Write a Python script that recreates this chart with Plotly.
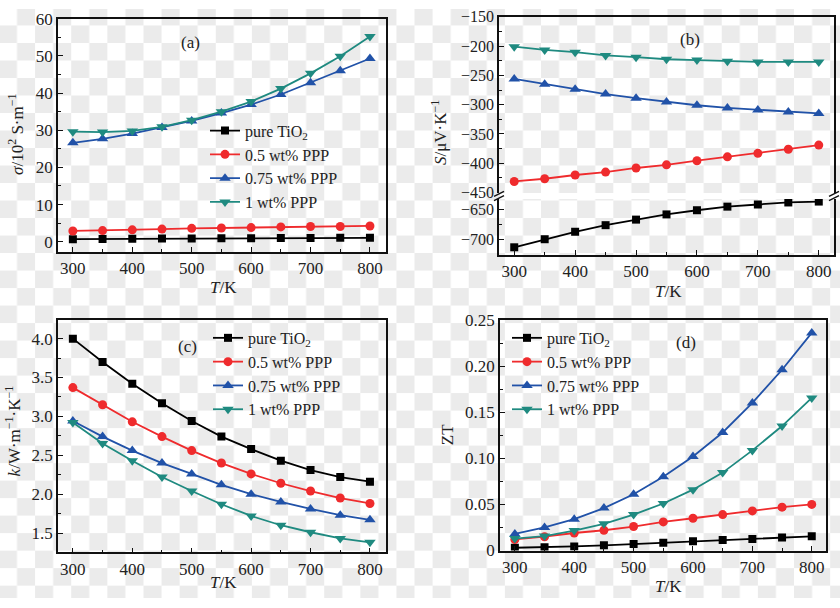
import base64
import plotly.graph_objects as go

# ---------------- data ----------------
T = [300, 350, 400, 450, 500, 550, 600, 650, 700, 750, 800]
series_names = ["pure TiO<sub>2</sub>", "0.5 wt% PPP", "0.75 wt% PPP", "1 wt% PPP"]

sigma_pure = [0.7, 0.75, 0.8, 0.85, 0.9, 0.95, 0.95, 1.0, 1.0, 1.05, 1.05]
sigma_05 = [2.9, 3.0, 3.2, 3.4, 3.6, 3.7, 3.8, 4.0, 4.1, 4.1, 4.25]
sigma_075 = [26.6, 27.7, 29.1, 30.7, 32.5, 34.6, 36.9, 39.6, 42.8, 46.0, 49.3]
sigma_1 = [29.6, 29.5, 29.8, 30.9, 32.7, 35.0, 37.7, 41.2, 45.3, 49.9, 55.2]

S_pure = [-713, -699.5, -687, -676, -666.7, -658, -651, -645, -641.4, -638, -636.5]
S_05 = [-431, -426.4, -420, -415, -408, -402.7, -395.6, -389, -383, -376, -369]
S_075 = [-256, -265, -273.6, -282, -289, -295.6, -301, -305.5, -309, -312.6, -315]
S_1 = [-201, -206.6, -210.4, -216, -219, -222.5, -224, -226, -227, -227, -227]

k_pure = [4.0, 3.70, 3.42, 3.17, 2.94, 2.74, 2.58, 2.43, 2.31, 2.22, 2.16]
k_05 = [3.37, 3.15, 2.93, 2.74, 2.56, 2.40, 2.26, 2.14, 2.04, 1.95, 1.88]
k_075 = [2.94, 2.74, 2.56, 2.40, 2.26, 2.12, 2.00, 1.90, 1.81, 1.73, 1.67]
k_1 = [2.92, 2.65, 2.43, 2.22, 2.04, 1.87, 1.72, 1.60, 1.51, 1.43, 1.38]

ZT_pure = [0.003, 0.0035, 0.0045, 0.0056, 0.007, 0.0084, 0.010, 0.0115, 0.0126, 0.014, 0.0154]
ZT_05 = [0.012, 0.015, 0.019, 0.022, 0.026, 0.031, 0.035, 0.039, 0.043, 0.047, 0.050]
ZT_075 = [0.018, 0.025, 0.034, 0.046, 0.061, 0.080, 0.102, 0.128, 0.160, 0.196, 0.236]
ZT_1 = [0.013, 0.0157, 0.0216, 0.029, 0.039, 0.051, 0.066, 0.0845, 0.1086, 0.135, 0.1655]

# tick labels
x_ticks = [300, 400, 500, 600, 700, 800]
x_ticktext = ["300", "400", "500", "600", "700", "800"]
a_ticks = [0, 10, 20, 30, 40, 50, 60]
a_ticktext = ["0", "10", "20", "30", "40", "50", "60"]
b_up_ticks = [-450, -400, -350, -300, -250, -200, -150]
b_up_ticktext = ["−450", "−400", "−350", "−300", "−250", "−200", "−150"]
b_lo_ticks = [-700, -650]
b_lo_ticktext = ["−700", "−650"]
c_ticks = [1.5, 2.0, 2.5, 3.0, 3.5, 4.0]
c_ticktext = ["1.5", "2.0", "2.5", "3.0", "3.5", "4.0"]
d_ticks = [0, 0.05, 0.10, 0.15, 0.20, 0.25]
d_ticktext = ["0", "0.05", "0.10", "0.15", "0.20", "0.25"]

# ---------------- style ----------------
W, H = 840, 608
FONT = "Liberation Serif"
colors = ["#000000", "#ef2b2d", "#2152a8", "#1f8a80"]
symbols = ["square", "circle", "triangle-up", "triangle-down"]
msizes = [8, 9, 10, 10]


def px_x(p):
    return p / W


def px_y(p):
    return 1 - p / H


fig = go.Figure()


def add_series(ys, xa, ya, legend, showlegend=True, idx=None):
    for i, y in enumerate(ys):
        j = i if idx is None else idx[i]
        fig.add_trace(go.Scatter(
            x=T, y=y, mode="lines+markers", name=series_names[j],
            line=dict(color=colors[j], width=1.8),
            marker=dict(symbol=symbols[j], size=msizes[j], color=colors[j]),
            xaxis=xa, yaxis=ya, legend=legend, showlegend=showlegend,
        ))


add_series([sigma_pure, sigma_05, sigma_075, sigma_1], "x", "y", "legend")
add_series([S_05, S_075, S_1], "x2", "y2", "legend", showlegend=False, idx=[1, 2, 3])
add_series([S_pure], "x3", "y3", "legend", showlegend=False, idx=[0])
add_series([k_pure, k_05, k_075, k_1], "x4", "y4", "legend2")
add_series([ZT_pure, ZT_05, ZT_075, ZT_1], "x5", "y5", "legend3")

tickfont = dict(family=FONT, size=17, color="#222")
axis_common = dict(showline=True, linecolor="#111", linewidth=1.5, showgrid=False,
                   zeroline=False, ticks="inside", ticklen=5, tickwidth=1.2,
                   tickcolor="#111", tickfont=tickfont)


def xaxis(domain, anchor, rng, **kw):
    d = dict(axis_common)
    d.update(domain=domain, anchor=anchor, range=rng, tickmode="array",
             tickvals=x_ticks, ticktext=x_ticktext, mirror=True,
             minor=dict(ticks="inside", ticklen=3, dtick=50, tick0=300, tickcolor="#111"))
    d.update(kw)
    return d


def yaxis(domain, anchor, rng, tv, tt, minor_dt, **kw):
    d = dict(axis_common)
    d.update(domain=domain, anchor=anchor, range=rng, tickmode="array",
             tickvals=tv, ticktext=tt, mirror=True,
             minor=dict(ticks="inside", ticklen=3, dtick=minor_dt, tick0=0, tickcolor="#111"))
    d.update(kw)
    return d


# panel domains (pixel based)
ax_a = [px_x(58), px_x(386)]
ax_b = [px_x(499), px_x(834)]
ax_c = [px_x(58), px_x(386)]
ax_d = [px_x(500), px_x(826)]
bfont = dict(family=FONT, size=16, color="#222")

fig.update_layout(
    xaxis=xaxis(ax_a, "y", [275, 827]),
    yaxis=yaxis([px_y(251), px_y(10)], "x", [-2.8, 60], a_ticks, a_ticktext, 5),
    xaxis2=xaxis(ax_b, "y2", [275, 825], side="top", showticklabels=False,
                 ticks="", mirror=False, minor=dict(ticks="")),
    yaxis2=yaxis([px_y(190), px_y(8)], "x2", [-450.8, -150], b_up_ticks, b_up_ticktext, 25,
                 tickfont=bfont),
    xaxis3=xaxis(ax_b, "y3", [275, 825], mirror=False),
    yaxis3=yaxis([px_y(254), px_y(196)], "x3", [-726, -632], b_lo_ticks, b_lo_ticktext, 25,
                 tickfont=bfont),
    xaxis4=xaxis(ax_c, "y4", [275, 827]),
    yaxis4=yaxis([px_y(561), px_y(321)], "x4", [1.25, 4.24], c_ticks, c_ticktext, 0.25),
    xaxis5=xaxis(ax_d, "y5", [275, 824]),
    yaxis5=yaxis([px_y(559), px_y(321)], "x5", [0, 0.25], d_ticks, d_ticktext, 0.025),
)

legend_common = dict(font=dict(family=FONT, size=16, color="#222"), bgcolor="rgba(0,0,0,0)",
                     xanchor="left", yanchor="top", tracegroupgap=0, itemwidth=30)
fig.update_layout(
    legend=dict(legend_common, x=px_x(205), y=px_y(108)),
    legend2=dict(legend_common, x=px_x(208), y=px_y(322)),
    legend3=dict(legend_common, x=px_x(507), y=px_y(322)),
)

annfont = dict(family=FONT, size=17, color="#222")
anns = []
for txt, x, y in [("(a)", 190, 35), ("(b)", 690, 32), ("(c)", 187, 348), ("(d)", 686, 344)]:
    anns.append(dict(text=txt, x=px_x(x), y=px_y(y), xref="paper", yref="paper",
                     showarrow=False, xanchor="center", yanchor="middle", font=annfont))
for txt, x, y in [("<i>T</i>/K", 223, 288), ("<i>T</i>/K", 668, 292),
                  ("<i>T</i>/K", 223, 592), ("<i>T</i>/K", 668, 596)]:
    anns.append(dict(text=txt, x=px_x(x), y=px_y(y), xref="paper", yref="paper",
                     showarrow=False, xanchor="center", yanchor="middle", font=annfont))
for txt, x, y in [("<i>σ</i>/10<sup>2</sup> S·m<sup>−1</sup>", 16, 130),
                  ("<i>S</i>/μV·K<sup>−1</sup>", 439, 128),
                  ("<i>k</i>/W·m<sup>−1</sup>·K<sup>−1</sup>", 13, 436),
                  ("ZT", 447, 440)]:
    anns.append(dict(text=txt, x=px_x(x), y=px_y(y), xref="paper", yref="paper",
                     showarrow=False, xanchor="center", yanchor="middle", textangle=-90,
                     font=annfont))

# broken-axis marks for panel (b)
shapes = [dict(type="rect", xref="paper", yref="paper", x0=px_x(500), x1=px_x(833),
               y0=px_y(196), y1=px_y(190), fillcolor="white", line=dict(width=0), layer="below")]
for cx, cy in [(499, 193), (834, 193)]:
    for dy in (-2.2, 2.2):
        shapes.append(dict(type="line", xref="paper", yref="paper",
                           x0=px_x(cx - 5), y0=px_y(cy + dy + 2.5),
                           x1=px_x(cx + 5), y1=px_y(cy + dy - 2.5),
                           line=dict(color="#111", width=1.4)))

# checkerboard background
p = 18.07
svg = (
    f'<svg xmlns="http://www.w3.org/2000/svg" width="{W}" height="{H}">'
    f'<defs><pattern id="c" x="-1.07" y="-1.07" width="{2*p}" height="{2*p}" patternUnits="userSpaceOnUse">'
    f'<rect width="{2*p}" height="{2*p}" fill="#ffffff"/>'
    f'<rect x="{p}" y="0" width="{p}" height="{p}" fill="#ebebeb"/>'
    f'<rect x="0" y="{p}" width="{p}" height="{p}" fill="#ebebeb"/>'
    f'</pattern></defs><rect width="{W}" height="{H}" fill="url(#c)"/></svg>'
)
uri = "data:image/svg+xml;base64," + base64.b64encode(svg.encode()).decode()

fig.update_layout(
    width=W, height=H, margin=dict(l=0, r=0, t=0, b=0),
    paper_bgcolor="white", plot_bgcolor="white",
    annotations=anns, shapes=shapes,
    images=[dict(source=uri, xref="paper", yref="paper", x=0, y=1, sizex=1, sizey=1,
                 sizing="stretch", layer="below", xanchor="left", yanchor="top")],
    font=dict(family=FONT, size=17, color="#222"),
)

fig.write_html("out.html", config={"displayModeBar": False})
